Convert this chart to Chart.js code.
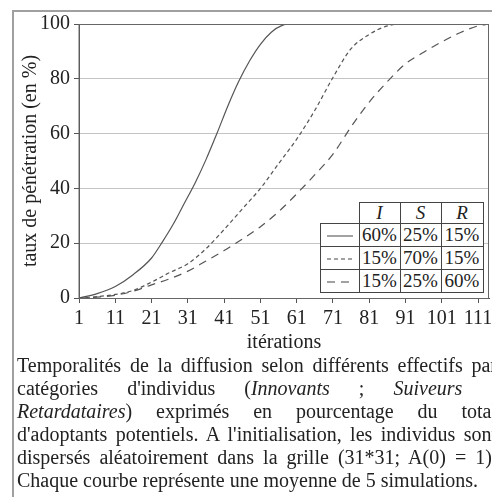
<!DOCTYPE html>
<html>
<head>
<meta charset="utf-8">
<script src="https://cdn.jsdelivr.net/npm/chart.js@4.4.1/dist/chart.umd.min.js"></script>
<style>
  body { margin: 0; width: 492px; height: 497px; overflow: hidden; background: #fff; position: relative; font-family: "Liberation Serif", serif; color: #222; }
  #frame { position: absolute; left: 12px; top: 10px; width: 490px; height: 500px; border-top: 2px solid #a0a0a0; border-left: 2px solid #a0a0a0; }
  #wrap { position: absolute; left: 0; top: 0; width: 492px; height: 359px; }
  #legend { position: absolute; left: 320px; top: 202px; border-collapse: collapse; background: #fff; font-size: 19px; line-height: 20px; }
  #legend td { border: 1px solid #444; padding: 0; text-align: center; height: 22px; }
  #legend tr.head td { height: 18px; font-style: italic; }
  #legend tr.head td.blank { border: none; background: transparent; }
  #caption { position: absolute; left: 17px; top: 354px; width: 480px; font-size: 20px; line-height: 23px; white-space: nowrap; }
  #caption div { text-align: justify; text-align-last: justify; white-space: normal; }
  #caption div.last { text-align-last: left; }
</style>
</head>
<body>
<div id="frame"></div>
<div id="wrap"><canvas id="c"></canvas></div>
<table id="legend"></table>
<div id="caption">
  <div>Temporalités de la diffusion selon différents effectifs par</div>
  <div>catégories d'individus (<i>Innovants</i> ; <i>Suiveurs</i> ;</div>
  <div><i>Retardataires</i>) exprimés en pourcentage du total</div>
  <div>d'adoptants potentiels. A l'initialisation, les individus sont</div>
  <div>dispersés aléatoirement dans la grille (31*31; A(0) = 1).</div>
  <div class="last">Chaque courbe représente une moyenne de 5 simulations.</div>
</div>
<script>
// iterations / penetration rate (%)
var itSolid = [1, 6, 11, 16, 21, 24, 27, 30, 33, 36, 39, 42, 45, 48, 51, 54, 57, 60, 114];
var valSolid = [0, 1.6, 4.2, 8.6, 14.6, 20.5, 27, 34.5, 42, 50.5, 60, 70, 79, 86.5, 92.6, 97, 99.5, 100, 100];

var itShort = [1, 6, 11, 16, 21, 26, 31, 36, 41, 46, 51, 56, 61, 66, 71, 76, 81, 86, 90, 114];
var valShort = [0, 0.5, 1.3, 2.8, 5.8, 9.3, 12.5, 18, 25, 32.5, 40, 49, 58, 68.5, 80.5, 91, 96.2, 99.3, 100, 100];

var itLong = [1, 6, 11, 16, 21, 26, 31, 36, 41, 46, 51, 56, 61, 66, 71, 76, 81, 86, 91, 96, 101, 106, 111, 114];
var valLong = [0, 0.3, 1, 2.5, 4.8, 7, 9.8, 13.5, 17.3, 21.5, 26, 31.5, 38, 45, 52.5, 62.5, 71.5, 79, 85.5, 89.7, 93.5, 96.8, 99.3, 100];

var xTicks = [1, 11, 21, 31, 41, 51, 61, 71, 81, 91, 101, 111];
var yTicks = [0, 20, 40, 60, 80, 100];

// legend table: share of Innovants / Suiveurs / Retardataires
var groups = ['I', 'S', 'R'];
var shareI = [60, 15, 15];
var shareS = [25, 70, 25];
var shareR = [15, 15, 60];
var dashes = [[], [4, 3], [8, 6]];

function pts(xs, ys) {
  return xs.map(function (x, i) { return { x: x, y: ys[i] }; });
}

var font = { family: '"Liberation Serif", serif', size: 20 };
var lineCol = '#555';

var plotBorder = {
  id: 'plotBorder',
  afterDatasetsDraw: function (chart) {
    var a = chart.chartArea, ctx = chart.ctx;
    ctx.save();
    ctx.strokeStyle = '#666';
    ctx.lineWidth = 1;
    ctx.strokeRect(a.left, a.top + 0.5, a.right - a.left - 0.5, a.bottom - a.top);
    ctx.restore();
  }
};

var sets = [[itSolid, valSolid], [itShort, valShort], [itLong, valLong]];
var datasets = sets.map(function (s, i) {
  return {
    data: pts(s[0], s[1]),
    borderColor: lineCol,
    borderWidth: 1.2,
    borderDash: dashes[i],
    pointRadius: 0,
    fill: false,
    cubicInterpolationMode: 'monotone'
  };
});

var chart = new Chart(document.getElementById('c'), {
  type: 'line',
  data: { datasets: datasets },
  options: {
    responsive: true,
    maintainAspectRatio: false,
    animation: false,
    events: [],
    layout: { padding: { left: 13, top: 24, right: 3, bottom: 0 } },
    plugins: { legend: { display: false }, tooltip: { enabled: false } },
    scales: {
      x: {
        type: 'linear',
        min: 1,
        max: 114,
        afterBuildTicks: function (s) { s.ticks = xTicks.map(function (v) { return { value: v }; }); },
        afterFit: function (s) { s.height = 61; s.paddingLeft = 0; s.paddingRight = 0; },
        grid: { drawOnChartArea: false, tickLength: 5, color: lineCol },
        border: { color: lineCol },
        ticks: { font: font, color: '#222', padding: 4, maxRotation: 0, autoSkip: false },
        title: { display: true, text: 'itérations', font: font, color: '#222', padding: { top: 0, bottom: 4 } }
      },
      y: {
        min: 0,
        max: 100,
        afterBuildTicks: function (s) { s.ticks = yTicks.map(function (v) { return { value: v }; }); },
        afterFit: function (s) { s.width = 66; },
        grid: { color: '#c4c4c4', tickColor: lineCol, tickLength: 5 },
        border: { color: lineCol },
        ticks: { font: font, color: '#222', padding: 4 },
        title: { display: true, text: 'taux de pénétration (en %)', font: font, color: '#222', padding: { top: 6, bottom: 0 } }
      }
    }
  },
  plugins: [plotBorder]
});

// legend table
var tbl = document.getElementById('legend');
var colW = [38, 40, 40, 41];
var head = '<tr class="head"><td class="blank" style="width:' + colW[0] + 'px"></td>';
groups.forEach(function (g, j) { head += '<td style="width:' + colW[j + 1] + 'px">' + g + '</td>'; });
head += '</tr>';
var body = '';
for (var i = 0; i < 3; i++) {
  var d = dashes[i].length ? dashes[i].join(',') : 'none';
  body += '<tr><td><svg width="30" height="10"><line x1="2" y1="5" x2="28" y2="5" stroke="#444" stroke-width="1" stroke-dasharray="' + d + '"/></svg></td>' +
    '<td>' + shareI[i] + '%</td><td>' + shareS[i] + '%</td><td>' + shareR[i] + '%</td></tr>';
}
tbl.innerHTML = head + body;
</script>
</body>
</html>
